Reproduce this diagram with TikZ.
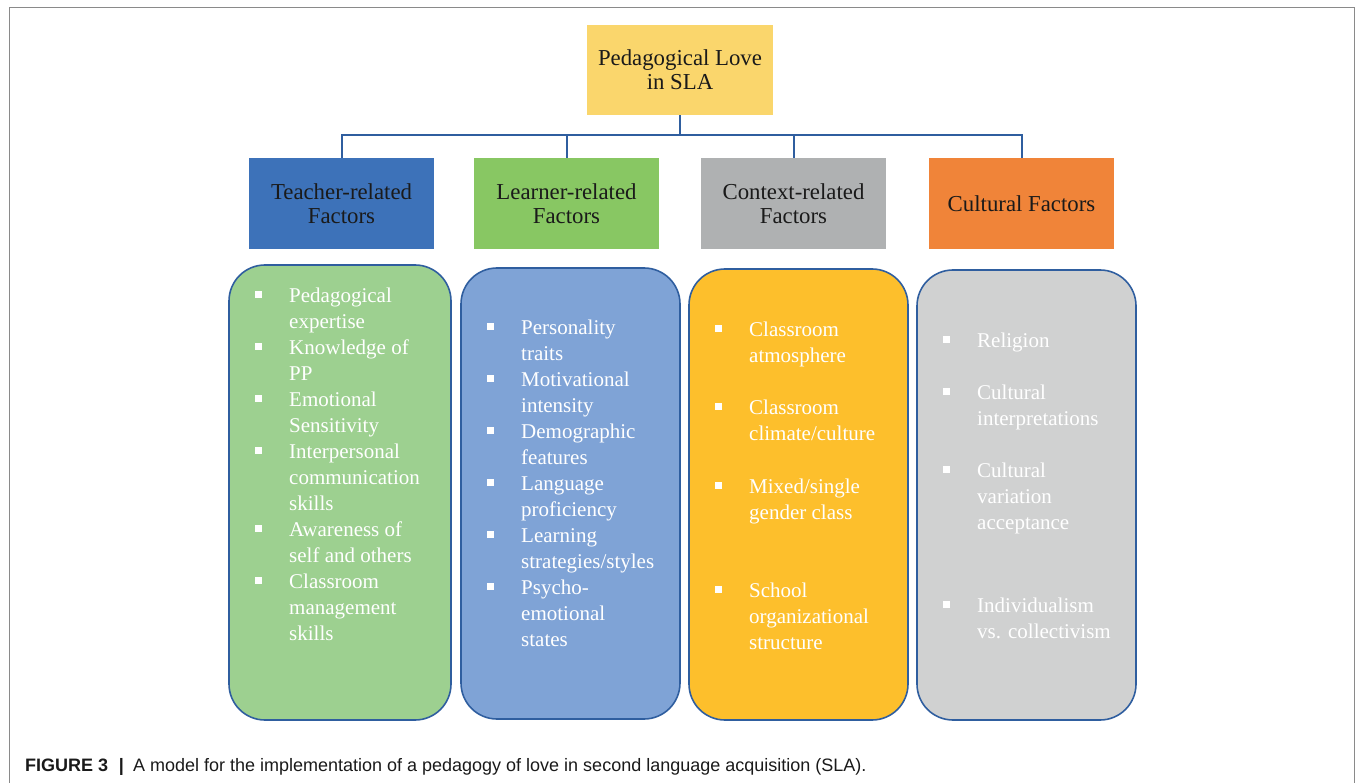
\documentclass[tikz,border=0pt]{standalone}
\usepackage{fontspec}
\setmainfont{Liberation Serif}
\newfontfamily\capfont{Liberation Sans}
\usepackage{array}
\definecolor{lineblue}{HTML}{2F5E9F}
\definecolor{topfill}{HTML}{FAD66C}
\definecolor{teachfill}{HTML}{3D72B9}
\definecolor{learnfill}{HTML}{88C763}
\definecolor{contfill}{HTML}{AFB1B2}
\definecolor{cultfill}{HTML}{F08439}
\definecolor{gbox}{HTML}{9DD090}
\definecolor{bbox}{HTML}{7FA3D6}
\definecolor{obox}{HTML}{FDBF2C}
\definecolor{ybox}{HTML}{D0D1D1}
\definecolor{frame}{HTML}{8A8A8A}
\definecolor{txt}{HTML}{1A1A1A}
\newcommand{\bul}{\makebox[34pt][l]{\rule[5pt]{7pt}{7pt}}}
\tikzset{
  hdr/.style={draw=none, minimum width=185pt, minimum height=91pt, inner sep=0pt,
    align=center, text=txt, font=\fontsize{22.8}{24}\selectfont},
  listbox/.style={draw=lineblue, line width=1.6pt, rounded corners=36pt},
  items/.style={anchor=base west, inner sep=0pt, text=white,
    font=\fontsize{21}{26}\selectfont},
  conn/.style={draw=lineblue, line width=2pt},
}
\newenvironment{bl}{\renewcommand{\arraystretch}{1}\begin{tabular}[t]{@{}l@{}l@{}}}{\end{tabular}}
\begin{document}
\begin{tikzpicture}[x=1pt,y=-1pt]
\useasboundingbox (0,0) rectangle (1355,783);
% frame
\draw[frame, line width=1pt] (9.5,783) -- (9.5,7.5) -- (1354,7.5) -- (1354,783);
% top node
\node[hdr, fill=topfill, minimum width=186pt, minimum height=90pt] (top) at (680,70) {Pedagogical Love\\in SLA};
% headers
\node[hdr, fill=teachfill] (h1) at (341.5,203.5) {Teacher-related\\Factors};
\node[hdr, fill=learnfill] (h2) at (566.5,203.5) {Learner-related\\Factors};
\node[hdr, fill=contfill] (h3) at (793.5,203.5) {Context-related\\Factors};
\node[hdr, fill=cultfill] (h4) at (1021.5,203.5) {Cultural Factors};
% connectors
\coordinate (bus) at (680,135);
\draw[conn] (top.south) -- (bus);
\draw[conn] (bus) -| (h1.north);
\draw[conn] (bus) -| (h2.north);
\draw[conn] (bus) -| (h3.north);
\draw[conn] (bus) -| (h4.north);
% list boxes
\draw[listbox, fill=gbox] (229,265) rectangle (451,720);
\draw[listbox, fill=bbox] (461,268) rectangle (680,719);
\draw[listbox, fill=obox] (689,269) rectangle (908,720);
\draw[listbox, fill=ybox] (917,270) rectangle (1136,720);
% items
\node[items] (l1) at (255,303) {\begin{bl}
\bul & Pedagogical\\ & expertise\\
\bul & Knowledge of\\ & PP\\
\bul & Emotional\\ & Sensitivity\\
\bul & Interpersonal\\ & communication\\ & skills\\
\bul & Awareness of\\ & self and others\\
\bul & Classroom\\ & management\\ & skills
\end{bl}};
\node[items] (l2) at (487,335) {\begin{bl}
\bul & Personality\\ & traits\\
\bul & Motivational\\ & intensity\\
\bul & Demographic\\ & features\\
\bul & Language\\ & proficiency\\
\bul & Learning\\ & strategies/styles\\
\bul & Psycho-\\ & emotional\\ & states
\end{bl}};
\node[items] (l3) at (715,337) {\begin{bl}
\bul & Classroom\\ & atmosphere\\[26pt]
\bul & Classroom\\ & climate/culture\\[27pt]
\bul & Mixed/single\\ & gender class\\[52pt]
\bul & School\\ & organizational\\ & structure
\end{bl}};
\node[items] (l4) at (943,348) {\begin{bl}
\bul & Religion\\[26pt]
\bul & Cultural\\ & interpretations\\[26pt]
\bul & Cultural\\ & variation\\ & acceptance\\[57pt]
\bul & Individualism\\ & vs. collectivism
\end{bl}};
% caption
\node[anchor=base west, inner sep=0pt, text=txt, font=\capfont\fontsize{18}{20}\selectfont] (cap) at (25,771)
  {\textbf{FIGURE 3}\hspace{0.6em}\textbf{|}\hspace{0.5em}A model for the implementation of a pedagogy of love in second language acquisition (SLA).};
\end{tikzpicture}
\end{document}
